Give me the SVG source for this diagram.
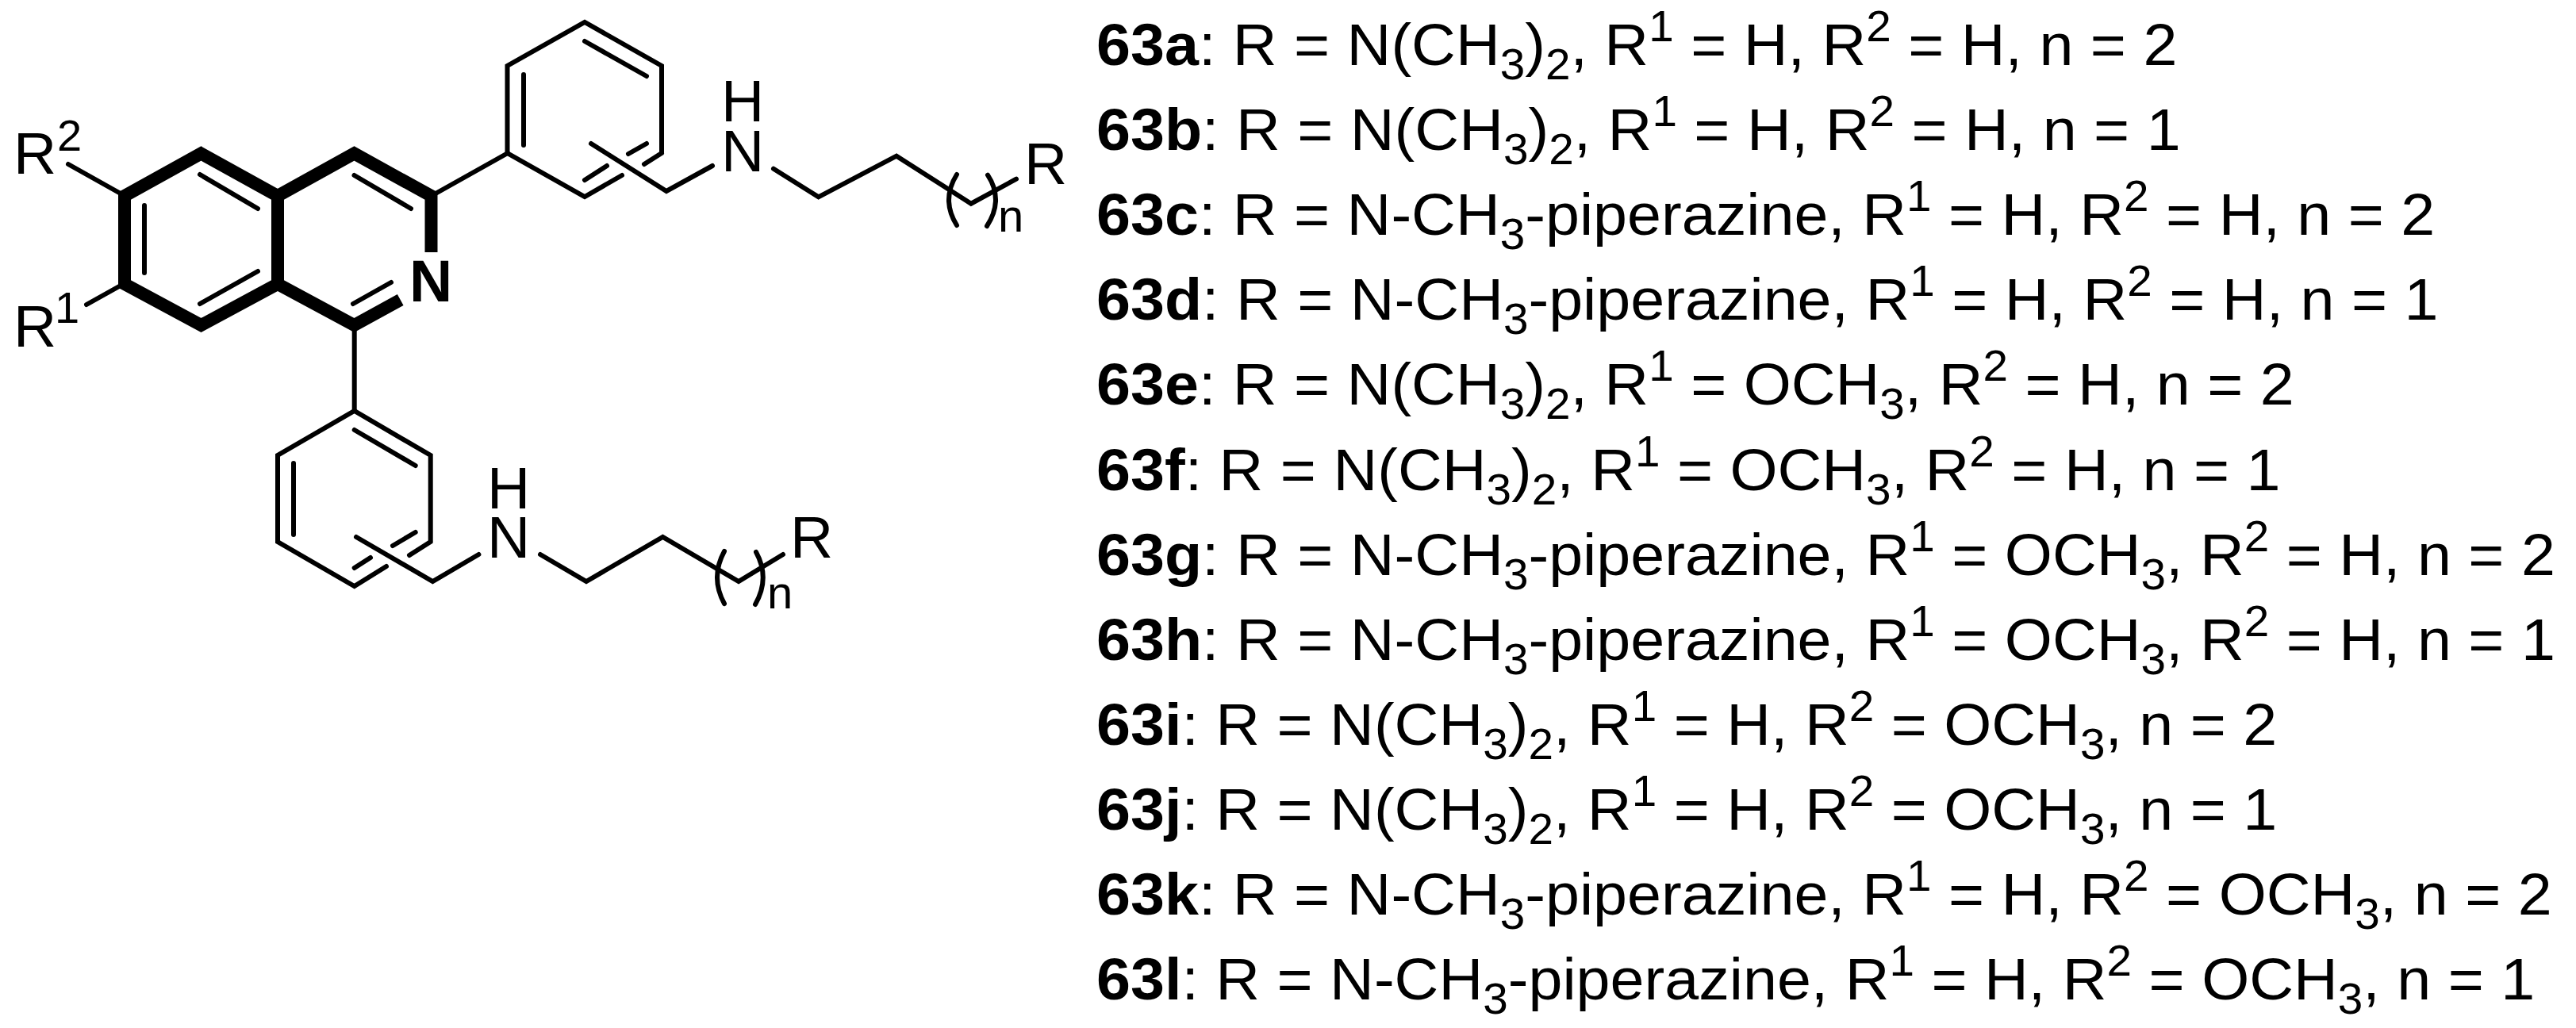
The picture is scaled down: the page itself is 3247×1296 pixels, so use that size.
<svg xmlns="http://www.w3.org/2000/svg" width="3247" height="1296" viewBox="0 0 3247 1296">
<style>
text{font-family:"Liberation Sans",Arial,sans-serif;font-size:75px;fill:#000}
.b{font-weight:bold}
.s{font-size:55px}
.cs{font-size:56px}
.n{font-size:58px}
.t{fill:none;stroke:#000;stroke-width:16;stroke-linejoin:miter;stroke-linecap:butt}
.l{fill:none;stroke:#000;stroke-width:6;stroke-linejoin:miter;stroke-linecap:round}
</style>
<rect width="3247" height="1296" fill="#fff"/>
<g id="isoquinoline">
<path class="t" d="M543.5 318V247L446.5 193.5L350 247V358L253.5 410L157 358V247L253.5 193.5L350 247"/>
<path class="t" d="M350 358L446.5 410L504.7 378"/>
<path class="l" d="M252 220L325 263M182 259V344M252 383L325 342M446.5 221L518 263M445 383L493 356"/>
<path class="l" d="M86 207L152 244M109 384L152 360M549 244L640 193M446.7 416V518"/>
<text class="b" x="516" y="380">N</text>
<text x="17" y="219">R</text><text class="cs" x="72" y="190">2</text>
<text x="17" y="437">R</text><text class="cs" x="69" y="407">1</text>
</g>
<g id="aryl-top">
<path class="l" d="M834 193V83L737 28L639.5 83V193L737 248L784 221M812 207L834 193"/>
<path class="l" d="M737 52L815 96M660 94V183M792 194L815 181M737 227L765 209"/>
<path class="l" d="M745 181L840 241L898 209M975 212.7L1031.7 248.3L1130 196.7L1224 256.7L1281 225.7"/>
<path class="l" d="M1206 220Q1186 252 1206 284M1245 220.7Q1265.5 252 1244 285"/>
<text x="909" y="153">H</text><text x="909" y="216">N</text>
<text x="1291" y="232">R</text><text class="n" x="1258" y="292">n</text>
</g>
<g id="aryl-bottom">
<path class="l" d="M542.7 683V574L446.7 518L350 574V683L446.7 739L487 714M516 700L542.7 683"/>
<path class="l" d="M446.7 542L523.7 587M370 584V674M523.7 671L495 688M446.7 716L467 703"/>
<path class="l" d="M449 677L545.4 733L603.4 699M681 699L739 733L835.4 677L931 733L987 699"/>
<path class="l" d="M913 695Q895 728 913 761M953 696Q971 729 952 762"/>
<text x="614" y="641">H</text><text x="614" y="703">N</text>
<text x="996" y="703">R</text><text class="n" x="967" y="767">n</text>
</g>
<g id="legend" transform="translate(1382 0) scale(1.03 1)">
<text x="0" y="82"><tspan class="b">63a</tspan>: R = N(CH<tspan class="s" dy="18">3</tspan><tspan dy="-18">)</tspan><tspan class="s" dy="18">2</tspan><tspan dy="-18">, R</tspan><tspan class="s" dy="-30">1</tspan><tspan dy="30"> = H, R</tspan><tspan class="s" dy="-30">2</tspan><tspan dy="30"> = H, n = 2</tspan></text>
<text x="0" y="189"><tspan class="b">63b</tspan>: R = N(CH<tspan class="s" dy="18">3</tspan><tspan dy="-18">)</tspan><tspan class="s" dy="18">2</tspan><tspan dy="-18">, R</tspan><tspan class="s" dy="-30">1</tspan><tspan dy="30"> = H, R</tspan><tspan class="s" dy="-30">2</tspan><tspan dy="30"> = H, n = 1</tspan></text>
<text x="0" y="296"><tspan class="b">63c</tspan>: R = N-CH<tspan class="s" dy="18">3</tspan><tspan dy="-18">-piperazine, R</tspan><tspan class="s" dy="-30">1</tspan><tspan dy="30"> = H, R</tspan><tspan class="s" dy="-30">2</tspan><tspan dy="30"> = H, n = 2</tspan></text>
<text x="0" y="403"><tspan class="b">63d</tspan>: R = N-CH<tspan class="s" dy="18">3</tspan><tspan dy="-18">-piperazine, R</tspan><tspan class="s" dy="-30">1</tspan><tspan dy="30"> = H, R</tspan><tspan class="s" dy="-30">2</tspan><tspan dy="30"> = H, n = 1</tspan></text>
<text x="0" y="510"><tspan class="b">63e</tspan>: R = N(CH<tspan class="s" dy="18">3</tspan><tspan dy="-18">)</tspan><tspan class="s" dy="18">2</tspan><tspan dy="-18">, R</tspan><tspan class="s" dy="-30">1</tspan><tspan dy="30"> = OCH</tspan><tspan class="s" dy="18">3</tspan><tspan dy="-18">, R</tspan><tspan class="s" dy="-30">2</tspan><tspan dy="30"> = H, n = 2</tspan></text>
<text x="0" y="618"><tspan class="b">63f</tspan>: R = N(CH<tspan class="s" dy="18">3</tspan><tspan dy="-18">)</tspan><tspan class="s" dy="18">2</tspan><tspan dy="-18">, R</tspan><tspan class="s" dy="-30">1</tspan><tspan dy="30"> = OCH</tspan><tspan class="s" dy="18">3</tspan><tspan dy="-18">, R</tspan><tspan class="s" dy="-30">2</tspan><tspan dy="30"> = H, n = 1</tspan></text>
<text x="0" y="725"><tspan class="b">63g</tspan>: R = N-CH<tspan class="s" dy="18">3</tspan><tspan dy="-18">-piperazine, R</tspan><tspan class="s" dy="-30">1</tspan><tspan dy="30"> = OCH</tspan><tspan class="s" dy="18">3</tspan><tspan dy="-18">, R</tspan><tspan class="s" dy="-30">2</tspan><tspan dy="30"> = H, n = 2</tspan></text>
<text x="0" y="832"><tspan class="b">63h</tspan>: R = N-CH<tspan class="s" dy="18">3</tspan><tspan dy="-18">-piperazine, R</tspan><tspan class="s" dy="-30">1</tspan><tspan dy="30"> = OCH</tspan><tspan class="s" dy="18">3</tspan><tspan dy="-18">, R</tspan><tspan class="s" dy="-30">2</tspan><tspan dy="30"> = H, n = 1</tspan></text>
<text x="0" y="939"><tspan class="b">63i</tspan>: R = N(CH<tspan class="s" dy="18">3</tspan><tspan dy="-18">)</tspan><tspan class="s" dy="18">2</tspan><tspan dy="-18">, R</tspan><tspan class="s" dy="-30">1</tspan><tspan dy="30"> = H, R</tspan><tspan class="s" dy="-30">2</tspan><tspan dy="30"> = OCH</tspan><tspan class="s" dy="18">3</tspan><tspan dy="-18">, n = 2</tspan></text>
<text x="0" y="1046"><tspan class="b">63j</tspan>: R = N(CH<tspan class="s" dy="18">3</tspan><tspan dy="-18">)</tspan><tspan class="s" dy="18">2</tspan><tspan dy="-18">, R</tspan><tspan class="s" dy="-30">1</tspan><tspan dy="30"> = H, R</tspan><tspan class="s" dy="-30">2</tspan><tspan dy="30"> = OCH</tspan><tspan class="s" dy="18">3</tspan><tspan dy="-18">, n = 1</tspan></text>
<text x="0" y="1153"><tspan class="b">63k</tspan>: R = N-CH<tspan class="s" dy="18">3</tspan><tspan dy="-18">-piperazine, R</tspan><tspan class="s" dy="-30">1</tspan><tspan dy="30"> = H, R</tspan><tspan class="s" dy="-30">2</tspan><tspan dy="30"> = OCH</tspan><tspan class="s" dy="18">3</tspan><tspan dy="-18">, n = 2</tspan></text>
<text x="0" y="1260"><tspan class="b">63l</tspan>: R = N-CH<tspan class="s" dy="18">3</tspan><tspan dy="-18">-piperazine, R</tspan><tspan class="s" dy="-30">1</tspan><tspan dy="30"> = H, R</tspan><tspan class="s" dy="-30">2</tspan><tspan dy="30"> = OCH</tspan><tspan class="s" dy="18">3</tspan><tspan dy="-18">, n = 1</tspan></text>
</g>
</svg>
